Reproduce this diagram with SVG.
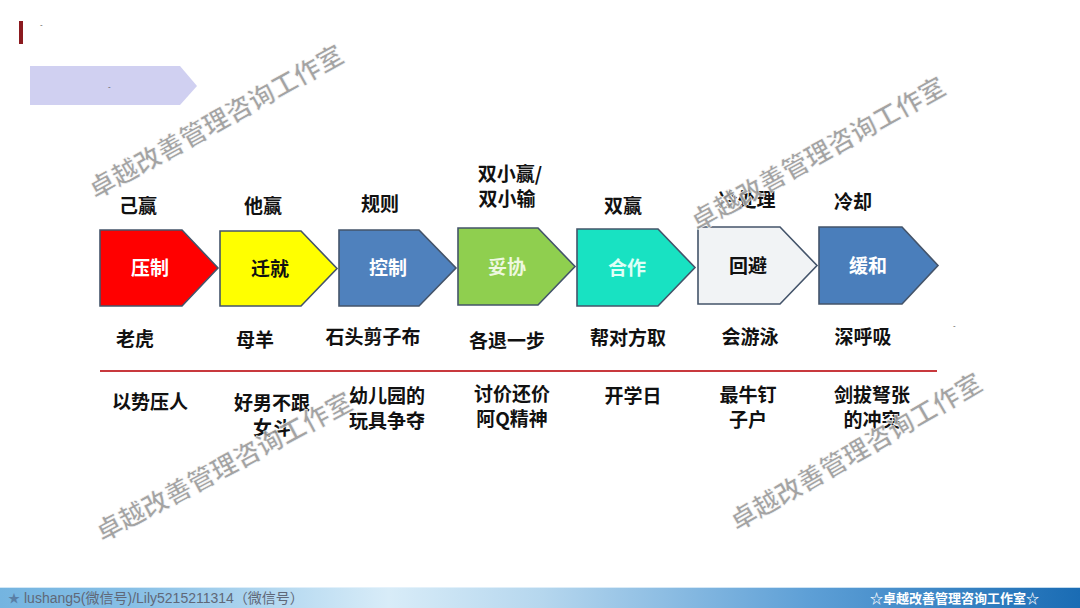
<svg xmlns="http://www.w3.org/2000/svg" width="1080" height="608" viewBox="0 0 1080 608">
<defs>
<style>
text{font-family:"Noto Sans CJK SC","Liberation Sans",sans-serif;}
.lbl{font-size:19px;font-weight:700;fill:#111;text-anchor:middle;dominant-baseline:central;}
.in{font-size:19px;font-weight:700;text-anchor:middle;dominant-baseline:central;}
.chev{stroke:#44546A;stroke-width:1.6;stroke-linejoin:miter;}
.wm{font-size:26px;font-weight:700;fill:#9a9a9a;text-anchor:middle;dominant-baseline:central;stroke:#ffffff;stroke-width:0.6;opacity:0.9;}
.tiny{font-size:8px;fill:#555;font-family:"Liberation Sans",sans-serif;}
</style>
<linearGradient id="bar" x1="0" y1="0" x2="1" y2="0">
<stop offset="0" stop-color="#74b4e0"/>
<stop offset="0.12" stop-color="#86bfe6"/>
<stop offset="0.36" stop-color="#d8ecf8"/>
<stop offset="0.5" stop-color="#b6d7ee"/>
<stop offset="0.75" stop-color="#5d9fd6"/>
<stop offset="1" stop-color="#1a6cb4"/>
</linearGradient>
</defs>
<rect width="1080" height="608" fill="#ffffff"/>

<g id="header">
<rect x="19" y="21" width="4" height="23" fill="#8b1a1f"/>
<text x="40" y="27" class="tiny">-</text>
<path d="M30,66 H180 L197,86 L180,105 H30 Z" fill="#d0d0f1"/>
<text x="108" y="89" class="tiny">-</text>
</g>

<g id="node-1">
<path class="chev" d="M100,230 H182 L218,268 L182,306 H100 Z" fill="#ff0000"/>
<text class="in" x="150" y="266" fill="#ffffff">压制</text>
<text class="lbl" x="138" y="204">己赢</text>
<text class="lbl" x="135" y="337">老虎</text>
<text class="lbl" x="150" y="400">以势压人</text>
</g>
<g id="node-2">
<path class="chev" d="M220,231 H301 L337,268.5 L301,306 H220 Z" fill="#ffff00"/>
<text class="in" x="270" y="267" fill="#111">迁就</text>
<text class="lbl" x="263" y="204">他赢</text>
<text class="lbl" x="255" y="338">母羊</text>
<text class="lbl" x="272" y="401">好男不跟</text>
<text class="lbl" x="272" y="426">女斗</text>
</g>
<g id="node-3">
<path class="chev" d="M339,230 H419 L456,268 L419,306 H339 Z" fill="#4f81bd"/>
<text class="in" x="388" y="266" fill="#ffffff">控制</text>
<text class="lbl" x="380" y="202">规则</text>
<text class="lbl" x="373" y="335">石头剪子布</text>
<text class="lbl" x="387" y="394">幼儿园的</text>
<text class="lbl" x="387" y="419">玩具争夺</text>
</g>
<g id="node-4">
<path class="chev" d="M458,228 H538 L575,266.5 L538,305 H458 Z" fill="#8fcf4f"/>
<text class="in" x="507" y="265" fill="#eef8e0">妥协</text>
<text class="lbl" x="510" y="172">双小赢/</text>
<text class="lbl" x="507" y="197">双小输</text>
<text class="lbl" x="507" y="339">各退一步</text>
<text class="lbl" x="512" y="392">讨价还价</text>
<text class="lbl" x="512" y="417">阿Q精神</text>
</g>
<g id="node-5">
<path class="chev" d="M577,229 H658 L695,267.5 L658,306 H577 Z" fill="#18e2c2"/>
<text class="in" x="627" y="266" fill="#e0fff7">合作</text>
<text class="lbl" x="623" y="204">双赢</text>
<text class="lbl" x="628" y="336">帮对方取</text>
<text class="lbl" x="633" y="394">开学日</text>
</g>
<g id="node-6">
<path class="chev" d="M698,227 H780 L817,265.5 L780,304 H698 Z" fill="#f1f3f5"/>
<text class="in" x="748" y="264" fill="#111">回避</text>
<text class="lbl" x="747" y="198">冷处理</text>
<text class="lbl" x="750" y="335">会游泳</text>
<text class="lbl" x="748" y="393">最牛钉</text>
<text class="lbl" x="748" y="418">子户</text>
</g>
<g id="node-7">
<path class="chev" d="M819,227 H902 L938,265.5 L902,304 H819 Z" fill="#4a7ebb"/>
<text class="in" x="868" y="264" fill="#ffffff">缓和</text>
<text class="lbl" x="853" y="200">冷却</text>
<text class="lbl" x="863" y="335">深呼吸</text>
<text class="lbl" x="872" y="393">剑拔弩张</text>
<text class="lbl" x="872" y="418">的冲突</text>
</g>

<g id="connectors">
<line x1="100" y1="371" x2="937" y2="371" stroke="#c8393d" stroke-width="2"/>
</g>
<text x="953" y="328" class="tiny">-</text>

<g id="watermarks">
<text class="wm" transform="translate(215,120) rotate(-29)">卓越改善管理咨询工作室</text>
<text class="wm" transform="translate(817,152) rotate(-29)">卓越改善管理咨询工作室</text>
<text class="wm" transform="translate(223,465) rotate(-28)">卓越改善管理咨询工作室</text>
<text class="wm" transform="translate(855,450) rotate(-30)">卓越改善管理咨询工作室</text>
</g>

<g id="footer">
<rect x="0" y="587" width="1080" height="21" fill="url(#bar)"/>
<rect x="0" y="587" width="1080" height="1" fill="#e8f4fb" opacity="0.8"/>
<text x="8" y="603" font-size="12" fill="#5a7fa6">★</text>
<text x="24" y="603" font-size="14" fill="#606878" style="font-family:'Liberation Sans','Noto Sans CJK SC',sans-serif">lushang5(微信号)/Lily5215211314（微信号）</text>
<text x="1039" y="603" font-size="13" font-weight="700" fill="#ffffff" text-anchor="end">☆卓越改善管理咨询工作室☆</text>
</g>
</svg>
